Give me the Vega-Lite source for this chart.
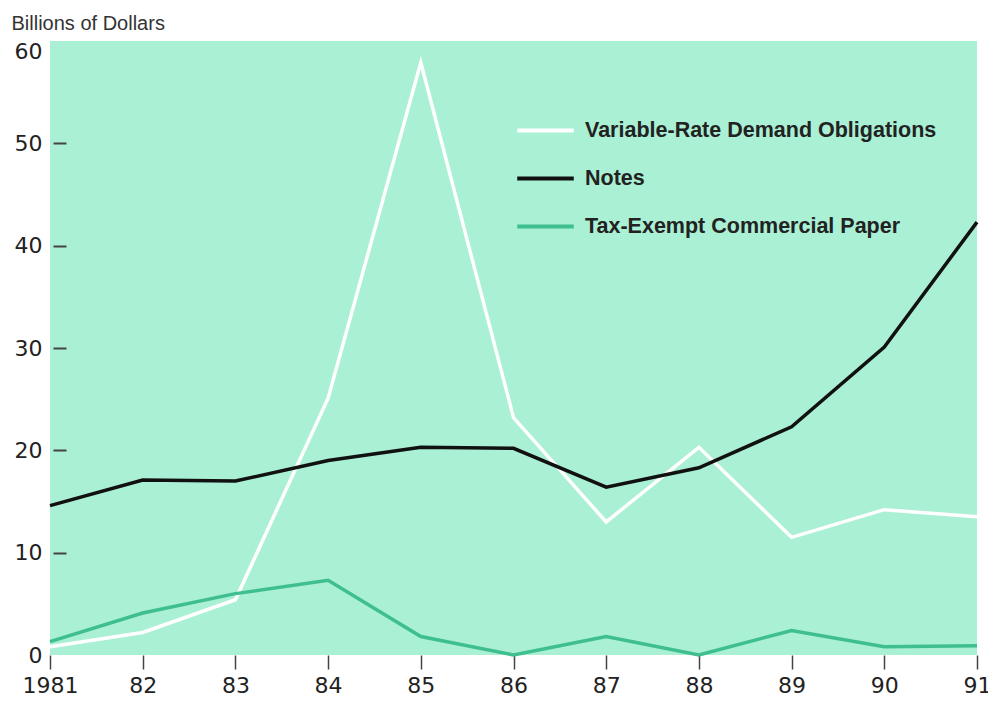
{
  "$schema": "https://vega.github.io/schema/vega-lite/v6.json",
  "autosize": {"type": "none"},
  "width": 927,
  "height": 614,
  "padding": {"left": 50, "top": 41, "right": 11, "bottom": 47},
  "background": "#ffffff",
  "view": {"fill": "#a9f0d4", "stroke": null},
  "config": {"font": "Liberation Sans"},
  "data": {"values": [
    {"year": 1981, "series": "Variable-Rate Demand Obligations", "value": 0.8},
    {"year": 1982, "series": "Variable-Rate Demand Obligations", "value": 2.2},
    {"year": 1983, "series": "Variable-Rate Demand Obligations", "value": 5.4},
    {"year": 1984, "series": "Variable-Rate Demand Obligations", "value": 25.1},
    {"year": 1985, "series": "Variable-Rate Demand Obligations", "value": 57.9},
    {"year": 1986, "series": "Variable-Rate Demand Obligations", "value": 23.2},
    {"year": 1987, "series": "Variable-Rate Demand Obligations", "value": 13.0},
    {"year": 1988, "series": "Variable-Rate Demand Obligations", "value": 20.3},
    {"year": 1989, "series": "Variable-Rate Demand Obligations", "value": 11.5},
    {"year": 1990, "series": "Variable-Rate Demand Obligations", "value": 14.2},
    {"year": 1991, "series": "Variable-Rate Demand Obligations", "value": 13.5},
    {"year": 1981, "series": "Notes", "value": 14.6},
    {"year": 1982, "series": "Notes", "value": 17.1},
    {"year": 1983, "series": "Notes", "value": 17.0},
    {"year": 1984, "series": "Notes", "value": 19.0},
    {"year": 1985, "series": "Notes", "value": 20.3},
    {"year": 1986, "series": "Notes", "value": 20.2},
    {"year": 1987, "series": "Notes", "value": 16.4},
    {"year": 1988, "series": "Notes", "value": 18.3},
    {"year": 1989, "series": "Notes", "value": 22.3},
    {"year": 1990, "series": "Notes", "value": 30.1},
    {"year": 1991, "series": "Notes", "value": 42.3},
    {"year": 1981, "series": "Tax-Exempt Commercial Paper", "value": 1.3},
    {"year": 1982, "series": "Tax-Exempt Commercial Paper", "value": 4.1},
    {"year": 1983, "series": "Tax-Exempt Commercial Paper", "value": 6.0},
    {"year": 1984, "series": "Tax-Exempt Commercial Paper", "value": 7.3},
    {"year": 1985, "series": "Tax-Exempt Commercial Paper", "value": 1.8},
    {"year": 1986, "series": "Tax-Exempt Commercial Paper", "value": 0.0},
    {"year": 1987, "series": "Tax-Exempt Commercial Paper", "value": 1.8},
    {"year": 1988, "series": "Tax-Exempt Commercial Paper", "value": 0.0},
    {"year": 1989, "series": "Tax-Exempt Commercial Paper", "value": 2.4},
    {"year": 1990, "series": "Tax-Exempt Commercial Paper", "value": 0.8},
    {"year": 1991, "series": "Tax-Exempt Commercial Paper", "value": 0.9}
  ]},
  "encoding": {
    "x": {
      "field": "year", "type": "quantitative",
      "scale": {"domain": [1981, 1991], "nice": false, "zero": false},
      "axis": {
        "values": [1981, 1982, 1983, 1984, 1985, 1986, 1987, 1988, 1989, 1990, 1991],
        "labelExpr": "datum.value == 1981 ? '1981' : substring(toString(datum.value), 2)",
        "title": null, "grid": false, "domain": false,
        "tickSize": 14, "tickColor": "#444", "tickWidth": 1.5,
        "labelFont": "DejaVu Sans", "labelFontSize": 22, "labelColor": "#222", "labelPadding": 6,
        "labelFlush": false, "labelOverlap": false
      }
    }
  },
  "layer": [
    {
      "mark": {"type": "line", "strokeWidth": 3.5},
      "encoding": {
        "y": {
          "field": "value", "type": "quantitative",
          "scale": {"domain": [0, 60], "nice": false},
          "axis": {
            "orient": "left",
            "values": [0, 10, 20, 30, 40, 50, 60],
            "title": "Billions of Dollars",
            "titleAngle": 0, "titleAlign": "left", "titleBaseline": "alphabetic",
            "titleX": -39, "titleY": -12,
            "titleFontSize": 20, "titleFontWeight": "normal", "titleColor": "#333",
            "grid": false, "domain": false, "ticks": false,
            "labelFont": "DejaVu Sans", "labelFontSize": 22, "labelColor": "#222", "labelPadding": 8,
            "labelOffset": {"condition": {"test": "datum.value == 60", "value": 10}, "value": 0},
            "labelFlush": false, "labelOverlap": false
          }
        },
        "color": {
          "field": "series", "type": "nominal",
          "scale": {
            "domain": ["Variable-Rate Demand Obligations", "Notes", "Tax-Exempt Commercial Paper"],
            "range": ["#ffffff", "#111111", "#3fbf8f"]
          },
          "legend": {
            "orient": "none", "legendX": 465, "legendY": 59,
            "title": null, "symbolType": "stroke", "symbolSize": 3200,
            "symbolStrokeWidth": 4, "labelFontSize": 21.5, "labelFontWeight": "bold",
            "labelColor": "#222", "rowPadding": 7, "labelOffset": 9,
            "labelLimit": 450
          }
        }
      }
    },
    {
      "mark": {"type": "line", "opacity": 0},
      "encoding": {
        "detail": {"field": "series"},
        "y": {
          "field": "value", "type": "quantitative",
          "scale": {"domain": [0, 60], "nice": false},
          "axis": {
            "orient": "left", "offset": -16,
            "values": [10, 20, 30, 40, 50],
            "title": null, "grid": false, "domain": false, "labels": false,
            "tickSize": 13, "tickColor": "#444", "tickWidth": 2
          }
        }
      }
    }
  ],
  "resolve": {"scale": {"y": "independent"}, "axis": {"y": "independent"}}
}
